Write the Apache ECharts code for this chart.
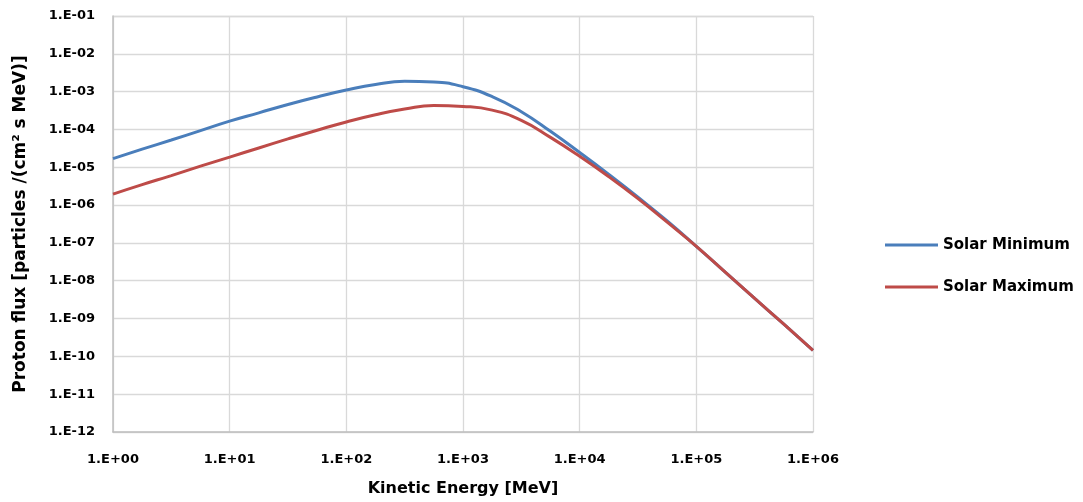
<!DOCTYPE html>
<html>
<head>
<meta charset="utf-8">
<script src="https://cdn.jsdelivr.net/npm/echarts@6/dist/echarts.min.js"></script>
<style>
html,body{margin:0;padding:0;background:#fff;}
#main{width:1083px;height:502px;}
</style>
</head>
<body>
<div id="main"></div>
<script>
// 能量 (MeV)，每 1/4 个数量级一个点
var energy = [1, 1.778, 3.162, 5.623, 10, 17.78, 31.62, 56.23, 100, 177.8, 316.2, 562.3, 1000,
	1778, 3162, 5623, 10000, 17783, 31623, 56234, 100000, 177828, 316228, 562341, 1000000];
// 太阳极小期
var solarMin = [1.70e-5, 3.02e-5, 5.25e-5, 9.33e-5, 1.66e-4, 2.75e-4, 4.57e-4, 7.24e-4, 1.10e-3, 1.55e-3, 1.88e-3, 1.80e-3, 1.35e-3,
	7.41e-4, 2.95e-4, 8.91e-5, 2.45e-5, 6.46e-6, 1.62e-6, 3.80e-7, 8.13e-8, 1.66e-8, 3.39e-9, 7.08e-10, 1.45e-10];
// 太阳极大期
var solarMax = [1.95e-6, 3.47e-6, 6.03e-6, 1.07e-5, 1.86e-5, 3.24e-5, 5.62e-5, 9.55e-5, 1.58e-4, 2.45e-4, 3.47e-4, 4.32e-4, 4.07e-4,
	3.24e-4, 1.74e-4, 6.17e-5, 1.95e-5, 5.62e-6, 1.48e-6, 3.55e-7, 8.13e-8, 1.66e-8, 3.39e-9, 7.08e-10, 1.45e-10];

function pairs(xs, ys) {
	var out = [];
	for (var i = 0; i < xs.length; i++) out.push([xs[i], ys[i]]);
	return out;
}
// 1.E-05 这种格式
function expLabel(v) {
	var e = Math.round(Math.log10(v));
	var a = Math.abs(e);
	return '1.E' + (e < 0 ? '-' : '+') + (a < 10 ? '0' + a : a);
}

var font = '"DejaVu Sans", sans-serif';
var myChart = echarts.init(document.getElementById('main'));
var option = {
	animation: false,
	textStyle: {fontFamily: font},
	grid: {left: 113, right: 270, top: 16, bottom: 69},
	legend: {
		orient: 'vertical',
		left: 880,
		top: 231,
		itemGap: 24,
		icon: 'rect',
		itemWidth: 53,
		itemHeight: 3,
		textStyle: {fontFamily: font, fontWeight: 'bold', fontSize: 15, lineHeight: 18, color: '#000'},
		data: ['Solar Minimum', 'Solar Maximum']
	},
	xAxis: {
		type: 'log',
		logBase: 10,
		min: 1,
		max: 1000000,
		interval: 1,
		name: 'Kinetic Energy [MeV]',
		nameLocation: 'middle',
		nameGap: 49,
		nameTextStyle: {fontFamily: font, fontWeight: 'bold', fontSize: 16, color: '#000'},
		axisLine: {lineStyle: {color: '#bfbfbf', width: 1.5}},
		axisTick: {show: false},
		splitLine: {show: true, lineStyle: {color: '#d9d9d9', width: 1.3}},
		axisLabel: {formatter: expLabel, fontFamily: font, fontWeight: 'bold', fontSize: 13, color: '#000', margin: 21}
	},
	yAxis: {
		type: 'log',
		logBase: 10,
		min: 1e-12,
		max: 0.1,
		interval: 1,
		name: 'Proton flux [particles /(cm\u00b2 s MeV)]',
		nameLocation: 'middle',
		nameGap: 84,
		nameTextStyle: {fontFamily: font, fontWeight: 'bold', fontSize: 17, color: '#000'},
		axisLine: {show: true, lineStyle: {color: '#bfbfbf', width: 1.5}},
		axisTick: {show: false},
		splitLine: {show: true, lineStyle: {color: '#d9d9d9', width: 1.3}},
		axisLabel: {formatter: expLabel, fontFamily: font, fontWeight: 'bold', fontSize: 13, color: '#000', margin: 18}
	},
	series: [
		{
			name: 'Solar Minimum',
			type: 'line',
			smooth: true,
			showSymbol: false,
			symbol: 'none',
			itemStyle: {color: '#4a7ebb'},
			lineStyle: {color: '#4a7ebb', width: 3},
			data: pairs(energy, solarMin)
		},
		{
			name: 'Solar Maximum',
			type: 'line',
			smooth: true,
			showSymbol: false,
			symbol: 'none',
			itemStyle: {color: '#be4b48'},
			lineStyle: {color: '#be4b48', width: 3},
			data: pairs(energy, solarMax)
		}
	]
};
myChart.setOption(option);
</script>
</body>
</html>
